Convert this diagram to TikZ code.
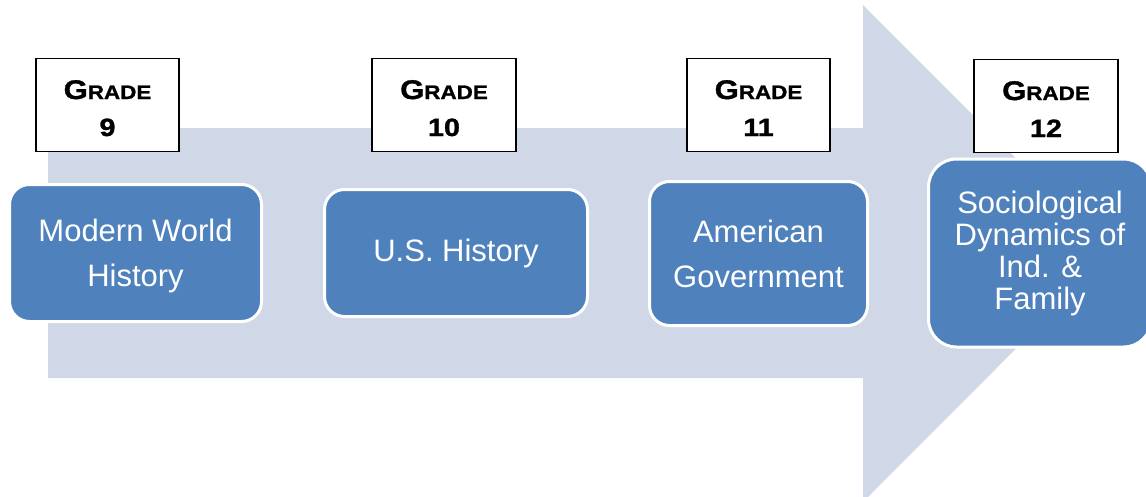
\documentclass[tikz,border=0pt]{standalone}
\usepackage{fontspec}
\setmainfont{Liberation Sans}
\newfontfamily\gradefont[FakeStretch=1.15,FakeBold=1.2]{Liberation Sans}
\definecolor{arrowfill}{RGB}{208,216,232}
\definecolor{boxblue}{RGB}{79,129,189}
\newcommand\gradeword{{\fontsize{27}{37}\selectfont G\fontsize{19.5}{37}\selectfont RADE}}
\begin{document}
\begin{tikzpicture}[x=1pt,y=-1pt,
  gradebox/.style={draw=black, line width=1.6pt, fill=white, minimum width=143.5pt, minimum height=93pt, inner sep=0pt, align=center, text height=62pt, text depth=0pt, font=\gradefont\bfseries\fontsize{25}{37}\selectfont},
  course/.style={draw=white, line width=3pt, fill=boxblue, rounded corners=20pt, inner sep=0pt, align=center, text=white, font=\fontsize{31}{45}\selectfont},
]
\useasboundingbox (0,0) rectangle (1146,496);
% big background arrow
\fill[arrowfill] (48,128) -- (863,128) -- (863,5) -- (1111,253.5) -- (863,502) -- (863,378) -- (48,378) -- cycle;
% grade labels
\node[gradebox] (g9)  at (107.5,105) {\gradeword\\9};
\node[gradebox] (g10) at (444,105)   {\gradeword\\10};
\node[gradebox] (g11) at (758.5,105) {\gradeword\\11};
\node[gradebox] (g12) at (1046,106)  {\gradeword\\12};
% courses
\node[course, minimum width=252pt, minimum height=137pt, text height=72.5pt, text depth=6.5pt] (c9)  at (135.5,253) {Modern World\\History};
\node[course, minimum width=263pt, minimum height=127pt] (c10) at (456,253)   {U.S. History};
\node[course, minimum width=218pt, minimum height=144pt] (c11) at (758.5,253.5) {American\\Government};
\node[course, minimum width=223pt, minimum height=188pt, rounded corners=28pt, font=\fontsize{31}{32}\selectfont] (c12) at (1040,253) {Sociological\\Dynamics of\\Ind. \&\\Family};
\end{tikzpicture}
\end{document}
